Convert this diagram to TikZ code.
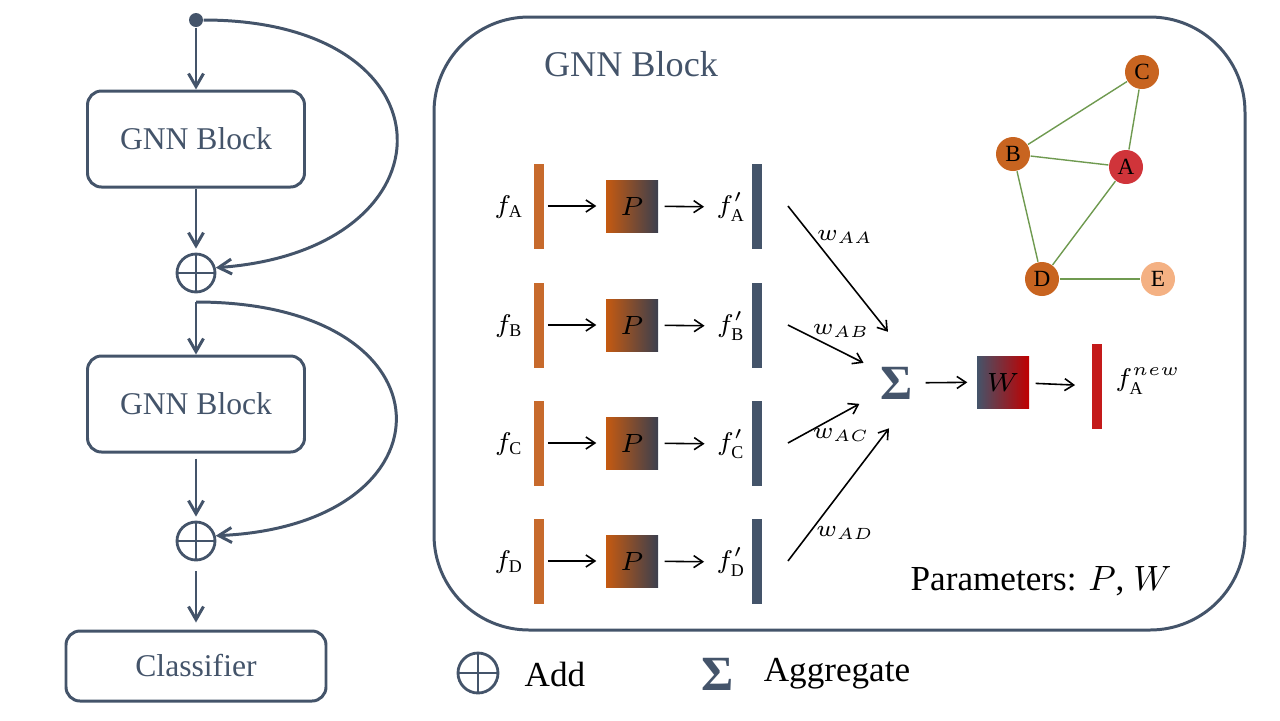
\documentclass[tikz,border=0pt]{standalone}
\usepackage{fix-cm}
\usepackage{fontspec}
\setmainfont{Liberation Serif}
\usetikzlibrary{positioning,arrows.meta}
\definecolor{slate}{HTML}{44546A}
\definecolor{rust}{HTML}{C55A11}
\definecolor{barorange}{HTML}{C76A2C}
\definecolor{inkdark}{HTML}{3B3F4E}
\definecolor{deepred}{HTML}{C00000}
\definecolor{barred}{HTML}{C41A1A}
\definecolor{nodered}{HTML}{D0343A}
\definecolor{nodeorange}{HTML}{C86420}
\definecolor{peach}{HTML}{F4B183}
\definecolor{edgegreen}{HTML}{6F9A50}
\tikzset{
  block/.style={draw=slate,line width=0.85pt,rounded corners=1.4mm,minimum width=21.7mm,
    minimum height=9.6mm,text=slate,font=\fontsize{9}{10}\selectfont},
  adder/.style={circle,draw=slate,line width=0.8pt,minimum size=3.8mm,inner sep=0pt,
    path picture={\draw[slate,line width=0.8pt]
      (path picture bounding box.north) -- (path picture bounding box.south)
      (path picture bounding box.west) -- (path picture bounding box.east);}},
  flow/.style={draw=slate,line width=0.85pt,-{Straight Barb[length=1.3mm,width=1.5mm]}},
  link/.style={draw,line width=0.45pt,-{Straight Barb[length=0.9mm,width=1.2mm]}},
  feat/.style={fill=barorange,minimum width=1.05mm,minimum height=8.5mm,inner sep=0pt},
  hid/.style={feat,fill=slate},
  proj/.style={minimum size=5.2mm,inner sep=0pt,left color=rust,middle color=rust!55!inkdark,
    right color=inkdark,font=\fontsize{7.5}{8}\selectfont},
  mix/.style={proj,left color=slate,middle color=slate!50!deepred,right color=deepred},
  lbl/.style={font=\fontsize{7.3}{8}\selectfont},
  wlbl/.style={font=\fontsize{6.6}{7}\selectfont},
  vertex/.style={circle,minimum size=3.4mm,inner sep=0pt,font=\fontsize{6.6}{7}\selectfont},
  graphedge/.style={draw=edgegreen,line width=0.4pt},
  sigma/.style={text=slate,font=\fontsize{14}{14}\selectfont\bfseries},
  legend/.style={font=\fontsize{10}{12}\selectfont}
}
\begin{document}
\begin{tikzpicture}[x=0.1mm,y=-0.1mm]
\useasboundingbox (0,0) rectangle (1280,720);
% left column
\node[circle,fill=slate,minimum size=1.4mm,inner sep=0pt] (src) at (196,20) {};
\node[block] (gnn1) at (196,139) {GNN Block};
\node[adder] (add1) at (196,273) {};
\coordinate (split) at (196,302);
\node[block] (gnn2) at (196,404) {GNN Block};
\node[adder] (add2) at (196,541) {};
\node[block,minimum width=26mm,minimum height=7mm] (cls) at (196,666) {Classifier};
\draw[flow] (src) -- (gnn1);
\draw[flow,shorten >=0.4mm] (gnn1) -- (add1);
\draw[flow] (split) -- (gnn2);
\draw[flow,shorten <=0.5mm,shorten >=0.4mm] (gnn2) -- (add2);
\draw[flow,shorten <=1mm,shorten >=0.7mm] (add2) -- (cls);
\draw[flow] (src) .. controls (459,20) and (459,250) .. (add1.15);
\draw[flow] (split) .. controls (459,302) and (459,525) .. (add2.15);
% GNN block frame
\node[draw=slate,line width=0.85pt,rounded corners=9.5mm,minimum width=81.1mm,
  minimum height=61.3mm] (frame) at (839.5,323.5) {};
\node[text=slate,font=\fontsize{10.3}{12}\selectfont] (title) at (631,64) {GNN Block};
% rows
\node[lbl] (fA) at (509,207) {$f_{\mathrm{A}}$};
\node[feat] (xA) at (539,206) {};
\node[proj] (pA) at (632,206) {$P$};
\node[lbl] (fpA) at (731,207) {$f'_{\mathrm{A}}$};
\node[hid] (hA) at (757,206) {};
\node[lbl] (fB) at (509,326) {$f_{\mathrm{B}}$};
\node[feat] (xB) at (539,325) {};
\node[proj] (pB) at (632,325) {$P$};
\node[lbl] (fpB) at (731,326) {$f'_{\mathrm{B}}$};
\node[hid] (hB) at (757,325) {};
\node[lbl] (fC) at (509,444) {$f_{\mathrm{C}}$};
\node[feat] (xC) at (539,443) {};
\node[proj] (pC) at (632,443) {$P$};
\node[lbl] (fpC) at (731,444) {$f'_{\mathrm{C}}$};
\node[hid] (hC) at (757,443) {};
\node[lbl] (fD) at (509,562) {$f_{\mathrm{D}}$};
\node[feat] (xD) at (539,561) {};
\node[proj] (pD) at (632,561) {$P$};
\node[lbl] (fpD) at (731,562) {$f'_{\mathrm{D}}$};
\node[hid] (hD) at (757,561) {};
\path
  (xA) edge[link,shorten <=0.3mm,shorten >=0.9mm] (pA)
  (pA) edge[link,shorten <=0.6mm] (fpA)
  (xB) edge[link,shorten <=0.3mm,shorten >=0.9mm] (pB)
  (pB) edge[link,shorten <=0.6mm] (fpB)
  (xC) edge[link,shorten <=0.3mm,shorten >=0.9mm] (pC)
  (pC) edge[link,shorten <=0.6mm] (fpC)
  (xD) edge[link,shorten <=0.3mm,shorten >=0.9mm] (pD)
  (pD) edge[link,shorten <=0.6mm] (fpD);
% aggregation
\node[sigma] (agg) at (897,383) {Σ};
\draw[link] ([xshift=2.5mm]hA.east) -- ([shift={(100:5.2mm)}]agg.center);
\draw[link] ([xshift=2.5mm]hB.east) -- ([shift={(149:3.9mm)}]agg.center);
\draw[link] ([xshift=2.5mm]hC.east) -- ([shift={(209:4.3mm)}]agg.center);
\draw[link] ([xshift=2.5mm]hD.east) -- ([shift={(260:4.6mm)}]agg.center);
\node[wlbl] (wAA) at (845,237) {$w_{AA}$};
\node[wlbl] (wAB) at (841,331) {$w_{AB}$};
\node[wlbl] (wAC) at (841,435) {$w_{AC}$};
\node[wlbl] (wAD) at (845,533) {$w_{AD}$};
\node[mix] (wbox) at (1003,382) {$W$};
\node[feat,fill=barred] (out) at (1097,386) {};
\node[lbl] (fnew) at (1148,381) {$f_{\mathrm{A}}^{new}$};
\path
  (agg) edge[link,shorten >=0.9mm] (wbox)
  (wbox) edge[link,shorten <=0.6mm,shorten >=1.6mm] (out);
% graph
\node[vertex,fill=nodeorange] (C) at (1142,72) {C};
\node[vertex,fill=nodeorange] (B) at (1013,154) {B};
\node[vertex,fill=nodered] (A) at (1126,167) {A};
\node[vertex,fill=nodeorange] (D) at (1042,279) {D};
\node[vertex,fill=peach] (E) at (1158,279) {E};
\path[graphedge]
  (B) edge (C)
  (C) edge (A)
  (B) edge (A)
  (B) edge (D)
  (A) edge (D)
  (D) edge (E);
\node[legend] (params) at (1041,581) {Parameters: $P$, $W$};
% legend
\node[adder,minimum size=4mm] (addkey) at (478,673) {};
\node[legend] (addtxt) at (555,674) {Add};
\node[sigma] (aggkey) at (718,674) {Σ};
\node[legend] (aggtxt) at (837,674) {Aggregate};
\end{tikzpicture}
\end{document}
